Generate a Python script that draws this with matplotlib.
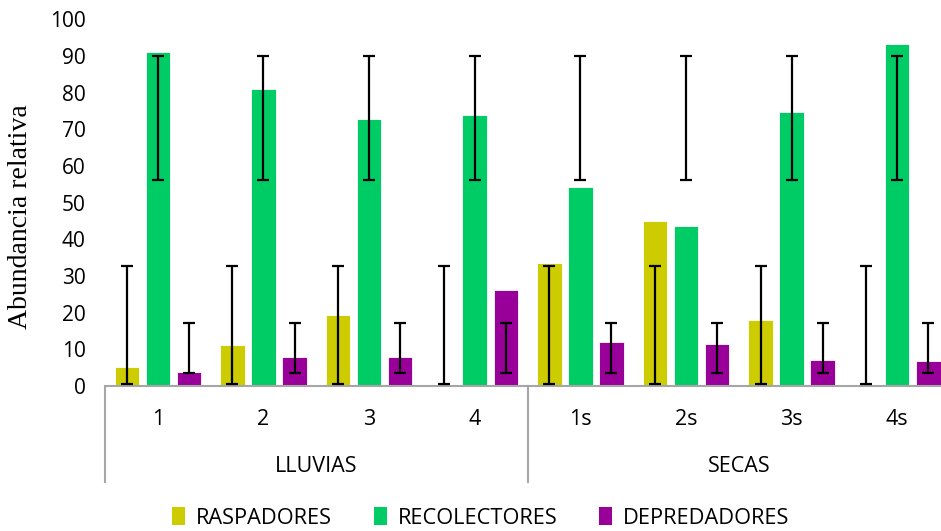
import numpy as np
import matplotlib
matplotlib.use('Agg')
import matplotlib.pyplot as plt
from matplotlib.patches import Patch
import matplotlib.transforms as mtransforms

# Datos
sitios = ['1', '2', '3', '4', '1s', '2s', '3s', '4s']
temporadas = ['LLUVIAS', 'SECAS']
series = ['RASPADORES', 'RECOLECTORES', 'DEPREDADORES']

raspadores = [5.1, 11.2, 19.5, 0.0, 33.5, 45.0, 18.0, 0.0]
recolectores = [91.2, 80.9, 72.7, 73.9, 54.3, 43.6, 74.8, 93.2]
depredadores = [3.7, 7.8, 7.8, 26.1, 12.1, 11.5, 7.0, 6.8]

# rango de las barras de error (inferior, superior), igual para cada sitio
err_rasp = (0.45, 32.7)
err_reco = (56.1, 90.0)
err_depr = (3.45, 17.3)

colores = ['#CCCC00', '#00CC66', '#990099']

label_font = ['Open Sans', 'DejaVu Sans']

fig = plt.figure(figsize=(9.41, 5.31), dpi=100)
ax = fig.add_axes([0.1116, 0.273, 0.898, 0.6906])

x = np.arange(len(sitios))
step = 0.294
width = 0.232
valores = [raspadores, recolectores, depredadores]
errores = [err_rasp, err_reco, err_depr]
for i in range(3):
    xi = x + (i - 1) * step
    ax.bar(xi, valores[i], width, color=colores[i], edgecolor='white', linewidth=0.6, zorder=2)
    lo, hi = errores[i]
    mid = (lo + hi) / 2
    half = (hi - lo) / 2
    ax.errorbar(xi, [mid] * len(x), yerr=half, fmt='none', ecolor='black',
                elinewidth=1.6, capsize=4.5, capthick=1.6, zorder=3)

ax.set_xlim(-0.5, 7.5)
ax.set_ylim(0, 100)
ax.set_yticks(np.arange(0, 101, 10))
ax.set_yticklabels([str(v) for v in range(0, 101, 10)], family=label_font, fontsize=15)
ax.tick_params(axis='y', length=0, pad=14)
ax.set_xticks([])

for s in ['top', 'right', 'left']:
    ax.spines[s].set_visible(False)
ax.spines['bottom'].set_color('#A6A6A6')
ax.spines['bottom'].set_linewidth(1.5)

trans = mtransforms.blended_transform_factory(ax.transData, ax.transAxes)
for xs in [-0.5, 3.5, 7.5]:
    ax.plot([xs, xs], [0, -0.262], transform=trans, color='#A6A6A6', lw=1.5, clip_on=False)

for xi, s in zip(x, sitios):
    ax.text(xi, -0.09, s, transform=trans, ha='center', va='center', family=label_font, fontsize=15.5)
for xc, t in zip([1.5, 5.5], temporadas):
    ax.text(xc, -0.22, t, transform=trans, ha='center', va='center', family=label_font, fontsize=15.5)

ax.set_ylabel('Abundancia relativa', family=['Liberation Serif', 'DejaVu Serif'], fontsize=20)
ax.yaxis.set_label_coords(-0.0852, 0.462)

handles = [Patch(facecolor=c, edgecolor='none') for c in colores]
fig.legend(handles, series, loc='center', bbox_to_anchor=(0.511, 0.025), ncol=3, frameon=False,
           prop={'family': label_font, 'size': 15.7}, handlelength=0.6, handleheight=0.9,
           handletextpad=0.5, columnspacing=1.9)

fig.savefig('out.png', dpi=100)
